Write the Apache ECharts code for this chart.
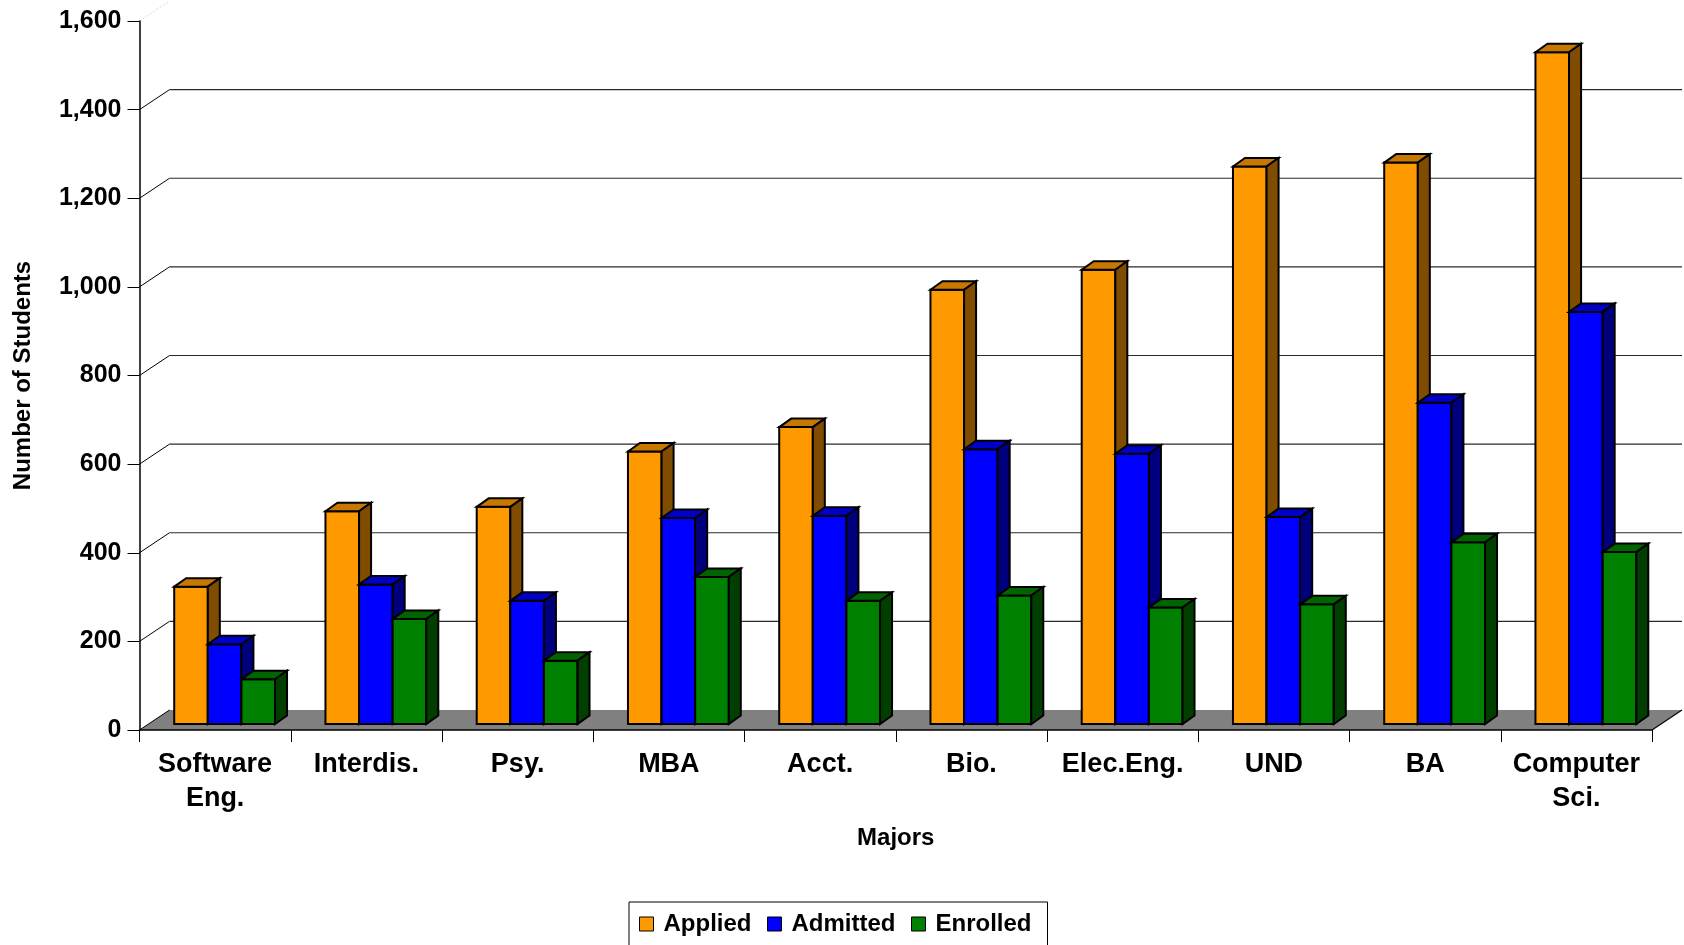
<!DOCTYPE html>
<html>
<head>
<meta charset="utf-8">
<title>Number of Students by Major</title>
<script src="https://cdn.jsdelivr.net/npm/echarts@6/dist/echarts.min.js"></script>
<style>
  html, body { margin: 0; padding: 0; background: #ffffff; }
  #chart { width: 1684px; height: 945px; }
</style>
</head>
<body>
<div id="chart"></div>
<script>
// Majors along the category axis
const majors = ['Software Eng.', 'Interdis.', 'Psy.', 'MBA', 'Acct.', 'Bio.', 'Elec.Eng.', 'UND', 'BA', 'Computer Sci.'];

// Student counts per major
const applied  = [310, 480, 490, 615, 670, 980, 1025, 1258, 1267, 1516];
const admitted = [180, 315, 278, 465, 470, 620, 610, 467, 725, 930];
const enrolled = [101, 237, 143, 332, 278, 290, 263, 270, 410, 388];

// Value-axis ticks (gridlines on the walls)
const valueTicks = [0, 200, 400, 600, 800, 1000, 1200, 1400, 1600];

// Pseudo-3D geometry (pixels)
const WALL_DX = 30, WALL_DY = -20;      // depth of floor / side wall
const FRONT_DX = 9.5, FRONT_DY = -6;    // bar front face position inside the depth
const BAR_DX = 12, BAR_DY = -8.5;       // bar thickness in depth
const BAR_FRAC = 0.2222;                // bar width as a fraction of the category band

const FONT = "'Liberation Sans', Arial, Helvetica, sans-serif";

const palettes = [
  { front: '#FF9900', top: '#C87800', side: '#7F4C00' },
  { front: '#0000FF', top: '#0000C8', side: '#00007F' },
  { front: '#008000', top: '#006400', side: '#003F00' }
];

function barRenderer(slot) {
  const pal = palettes[slot];
  return function (params, api) {
    const cat = api.value(0);
    const val = api.value(1);
    const base = api.coord([cat, 0]);
    const top = api.coord([cat, val]);
    const band = api.size([1, 0])[0];
    const bw = band * BAR_FRAC;
    const x0 = base[0] - 1.5 * bw + FRONT_DX + slot * bw;
    const x1 = x0 + bw;
    const yb = base[1] + FRONT_DY;
    const yt = top[1] + FRONT_DY;
    const stroke = { stroke: '#000000', lineWidth: 2, lineJoin: 'miter' };
    return {
      type: 'group',
      children: [
        {
          type: 'polygon',
          shape: { points: [[x0, yb], [x0, yt], [x1, yt], [x1, yb]] },
          style: Object.assign({ fill: pal.front }, stroke)
        },
        {
          type: 'polygon',
          shape: { points: [[x0, yt], [x0 + BAR_DX, yt + BAR_DY], [x1 + BAR_DX, yt + BAR_DY], [x1, yt]] },
          style: Object.assign({ fill: pal.top }, stroke)
        },
        {
          type: 'polygon',
          shape: { points: [[x1, yt], [x1 + BAR_DX, yt + BAR_DY], [x1 + BAR_DX, yb + BAR_DY], [x1, yb]] },
          style: Object.assign({ fill: pal.side }, stroke)
        }
      ]
    };
  };
}

function floorRenderer(params, api) {
  const cs = params.coordSys;
  const xl = cs.x, xr = cs.x + cs.width;
  const y0 = api.coord([0, 0])[1];
  return {
    type: 'group',
    children: [
      {
        type: 'polygon',
        shape: { points: [[xl, y0], [xl + WALL_DX, y0 + WALL_DY], [xr + WALL_DX, y0 + WALL_DY], [xr, y0]] },
        style: { fill: '#808080' }
      },
      {
        type: 'line',
        shape: { x1: xr, y1: y0, x2: xr + WALL_DX, y2: y0 + WALL_DY },
        style: { stroke: '#000000', lineWidth: 1.2 }
      }
    ]
  };
}

function gridRenderer(params, api) {
  const cs = params.coordSys;
  const xl = cs.x, xr = cs.x + cs.width;
  const v = api.value(1);
  const y = api.coord([0, v])[1];
  const isTop = v >= valueTicks[valueTicks.length - 1];
  const children = [{
    type: 'line',
    shape: { x1: xl, y1: y, x2: xl + WALL_DX, y2: y + WALL_DY },
    style: isTop ? { stroke: '#d8d8d8', lineWidth: 1, lineDash: [2, 2] }
                 : { stroke: '#000000', lineWidth: 1 }
  }];
  if (v > 0 && !isTop) {
    children.push({
      type: 'line',
      shape: { x1: xl + WALL_DX, y1: y + WALL_DY, x2: xr + WALL_DX, y2: y + WALL_DY },
      style: { stroke: '#2a2a2a', lineWidth: 1.2 }
    });
  }
  return { type: 'group', children: children };
}

const chart = echarts.init(document.getElementById('chart'), null, { renderer: 'canvas' });

const seriesNames = ['Applied', 'Admitted', 'Enrolled'];
const seriesValues = [applied, admitted, enrolled];

const option = {
  animation: false,
  backgroundColor: '#ffffff',
  grid: { left: 139.5, right: 32, top: 21, bottom: 215, containLabel: false },
  legend: {
    left: 629,
    top: 902,
    orient: 'horizontal',
    padding: [10, 16, 40, 10],
    itemGap: 15.5,
    itemWidth: 24,
    itemHeight: 14,
    icon: 'path://M0,0H10V10H0Z',
    borderColor: '#000000',
    borderWidth: 1,
    backgroundColor: '#ffffff',
    itemStyle: { borderColor: '#000000', borderWidth: 1 },
    textStyle: { fontFamily: FONT, fontWeight: 'bold', fontSize: 24, color: '#000000', lineHeight: 24 },
    selectedMode: false,
    data: seriesNames.map((n, i) => ({ name: n, itemStyle: { color: palettes[i].front, borderColor: '#000000', borderWidth: 1 } }))
  },
  xAxis: {
    type: 'category',
    data: majors,
    z: 10,
    name: 'Majors',
    nameLocation: 'middle',
    nameGap: 108,
    nameTextStyle: { fontFamily: FONT, fontWeight: 'bold', fontSize: 24, color: '#000000', verticalAlign: 'middle' },
    axisLine: { show: true, lineStyle: { color: '#000000', width: 1.5 } },
    axisTick: { show: true, length: 12, lineStyle: { color: '#000000', width: 1 } },
    axisLabel: {
      interval: 0,
      margin: 18,
      fontFamily: FONT,
      fontWeight: 'bold',
      fontSize: 27,
      lineHeight: 34,
      color: '#000000',
      formatter: (v) => v.replace(' ', '\n')
    },
    splitLine: { show: false }
  },
  yAxis: {
    type: 'value',
    min: 0,
    max: 1600,
    interval: 200,
    z: 10,
    name: 'Number of Students',
    nameLocation: 'middle',
    nameGap: 116,
    nameRotate: 90,
    nameTextStyle: { fontFamily: FONT, fontWeight: 'bold', fontSize: 24, color: '#000000', verticalAlign: 'middle' },
    axisLine: { show: true, lineStyle: { color: '#000000', width: 1.5 } },
    axisTick: { show: true, length: 12, lineStyle: { color: '#000000', width: 1 } },
    axisLabel: {
      margin: 18,
      fontFamily: FONT,
      fontWeight: 'bold',
      fontSize: 25,
      color: '#000000',
      formatter: (v) => v.toLocaleString('en-US')
    },
    splitLine: { show: false }
  },
  series: [
    {
      type: 'custom',
      silent: true,
      z: 1,
      renderItem: floorRenderer,
      data: [[0, 0]],
      clip: false
    },
    {
      type: 'custom',
      silent: true,
      z: 1.5,
      renderItem: gridRenderer,
      data: valueTicks.map((v) => [0, v]),
      clip: false
    }
  ].concat(seriesNames.map((name, i) => ({
    type: 'custom',
    name: name,
    z: 3 + i,
    itemStyle: { color: palettes[i].front },
    renderItem: barRenderer(i),
    data: seriesValues[i].map((v, k) => [k, v]),
    clip: false
  })))
};

chart.setOption(option);
</script>
</body>
</html>
